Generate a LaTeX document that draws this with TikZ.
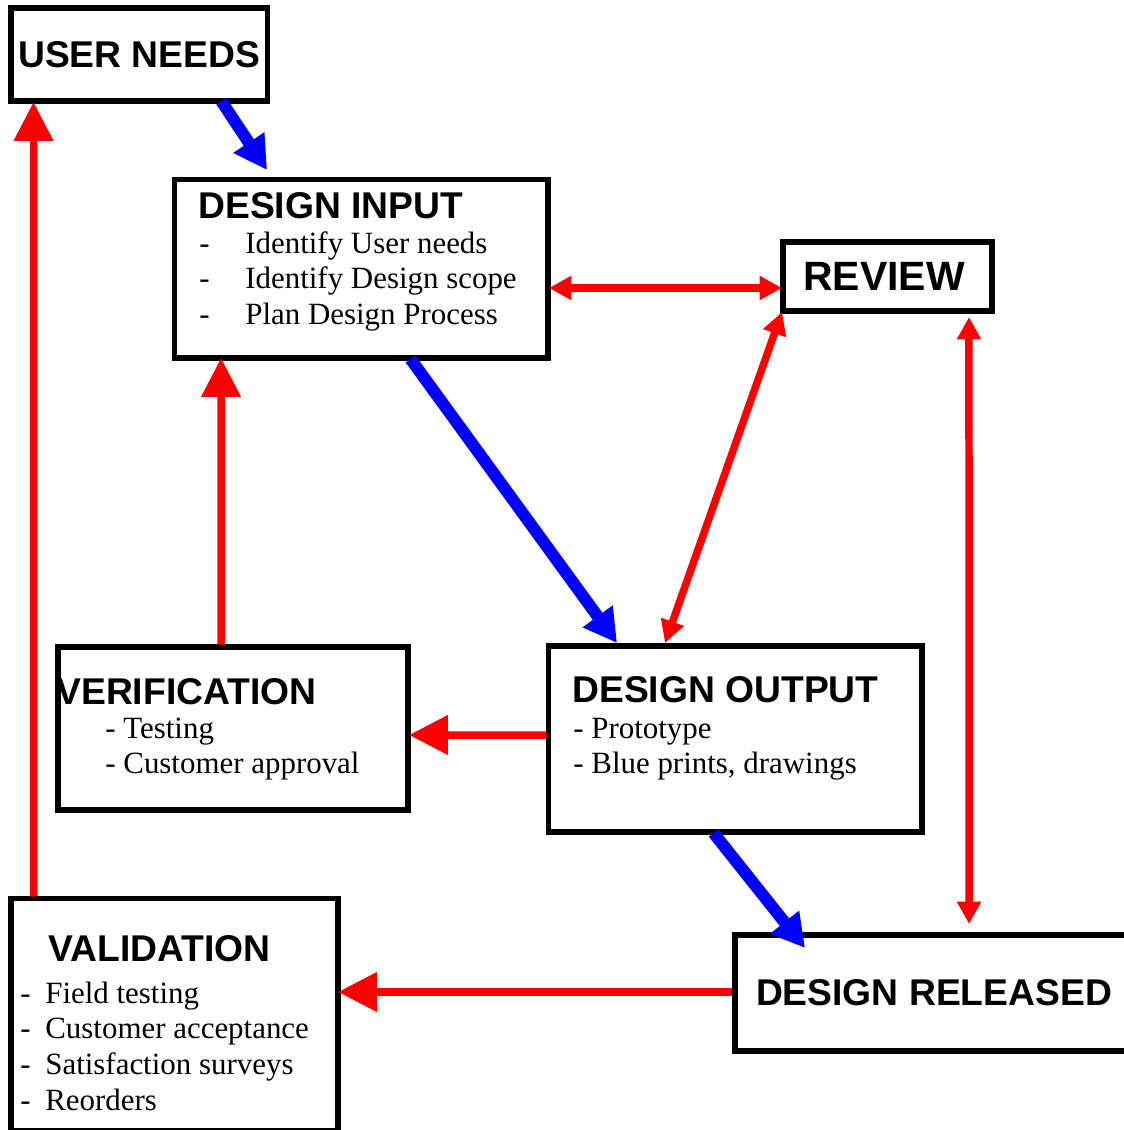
\documentclass[tikz,border=0pt]{standalone}
\usepackage{fontspec}
\setmainfont{Liberation Serif}
\newfontfamily\headfont{Liberation Sans}
\usetikzlibrary{arrows.meta,calc}
\tikzset{%
  BoxStyle/.style={draw,line width=3.2pt,inner sep=0pt,outer sep=0pt},
  TitleStyle/.style={inner sep=0pt,font=\headfont\bfseries\fontsize{21.2}{25}\selectfont},
  ItemStyle/.style={inner sep=0pt,anchor=base west,font=\fontsize{17.6}{20.4}\selectfont},
  BlueArrow/.style={draw=blue,line width=0.24cm,-{Triangle[length=0.66cm,width=0.70cm]}},
  RedArrow/.style={draw=red,line width=0.15cm,-{Triangle[length=0.78cm,width=0.76cm]}},
  RedBoth/.style={draw=red,line width=0.15cm,{Triangle[length=0.45cm,width=0.46cm]}-{Triangle[length=0.45cm,width=0.46cm]}}
}

\begin{document}
\begin{tikzpicture}[x=0.02cm,y=-0.02cm]
\useasboundingbox (0,0) rectangle (1124,1130);
\clip (0,0) rectangle (1124,1130);

\node (un) [BoxStyle,TitleStyle,minimum width=5.13cm,minimum height=1.86cm] at (139.25,54.5) {USER NEEDS};
\node (di) [BoxStyle,minimum width=7.47cm,minimum height=3.57cm] at (361.25,268.75) {};
\node (rv) [BoxStyle,TitleStyle,font=\headfont\bfseries\fontsize{23.3}{27}\selectfont,minimum width=4.18cm,minimum height=1.38cm] at (887.5,276.5) {\hspace*{-0.14cm}REVIEW};
\node (dout) [BoxStyle,minimum width=7.47cm,minimum height=3.72cm] at (735.25,739) {};
\node (vf) [BoxStyle,minimum width=7.00cm,minimum height=3.26cm] at (233,728.2) {};
\node (va) [BoxStyle,minimum width=6.54cm,minimum height=4.65cm] at (174.5,1014.75) {};
\node (dr) [BoxStyle,TitleStyle,minimum width=7.90cm,minimum height=2.32cm] at (932.5,993) {\hspace*{0.06cm}DESIGN RELEASED};

\node (di-title) [TitleStyle,anchor=base west] at (198,218) {DESIGN INPUT};
\node (di-items) [ItemStyle] at (199,253) {\begin{tabular}[t]{@{}p{0.92cm}@{}l@{}}
-&Identify User needs\\
-&Identify Design scope\\
-&Plan Design Process
\end{tabular}};
\node (dout-title) [TitleStyle,anchor=base west] at (572,702) {DESIGN OUTPUT};
\node (dout-items) [ItemStyle] at (573,738) {\begin{tabular}[t]{@{}l@{}}
- Prototype\\
- Blue prints, drawings
\end{tabular}};
\node (vf-title) [TitleStyle,anchor=base west] at (56,704) {VERIFICATION};
\node (vf-items) [ItemStyle] at (105,738) {\begin{tabular}[t]{@{}l@{}}
- Testing\\
- Customer approval
\end{tabular}};
\node (va-title) [TitleStyle,anchor=base west] at (48,961) {VALIDATION};
\node (va-items) [ItemStyle] at (20,1003) {\begin{tabular}[t]{@{}p{0.5cm}@{}l@{}}
-&Field testing\\
-&Customer acceptance\\
-&Satisfaction surveys\\
-&Reorders
\end{tabular}};

\draw [BlueArrow] ($(un.south)+(82,0)$) -- ($(di.north west)+(92.5,-9.5)$);
\draw [BlueArrow] ($(di.south west)+(236,1)$) -- ($(dout.north west)+(68.5,-3)$);
\draw [BlueArrow] ($(dout.south west)+(165,1)$) -- ($(dr.north west)+(70,13)$);
\draw [RedBoth] ($(di.east)+(1,19.25)$) -- ($(rv.west)+(-1,11.5)$);
\draw [RedBoth] ($(rv.south west)+(-1,1)$) -- ($(dout.north west)+(116.5,-3)$);
\draw [RedBoth] ($(rv.south east)+(-23,6)$) -- ($(dr.north west)+(234,-11)$);
\draw [RedArrow] ($(vf.north west)+(163,-2)$) -- ($(di.south west)+(46.5,0)$);
\draw [RedArrow] ($(dout.west)+(-2,-4)$) -- ($(vf.east)+(1,6.8)$);
\draw [RedArrow] ($(dr.west)+(-3,-1)$) -- ($(va.east)+(0,-22.75)$);
\draw [RedArrow] ($(va.north west)+(22.5,-2)$) -- ($(un.south west)+(22.5,1)$);
\end{tikzpicture}
\end{document}
